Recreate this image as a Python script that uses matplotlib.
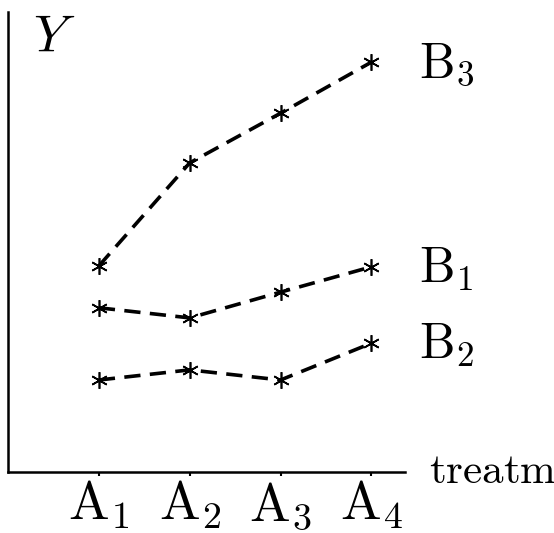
import matplotlib.pyplot as plt

plt.rcParams['mathtext.fontset'] = 'cm'

# dados
tratamentos = [1, 2, 3, 4]
rotulos_x = [r'$\mathrm{A}_1$', r'$\mathrm{A}_2$', r'$\mathrm{A}_3$', r'$\mathrm{A}_4$']
b1 = [3.57, 3.35, 3.91, 4.46]
b2 = [2.00, 2.22, 2.00, 2.80]
b3 = [4.48, 6.72, 7.80, 8.91]
series = [(b3, r'$\mathrm{B}_3$'), (b1, r'$\mathrm{B}_1$'), (b2, r'$\mathrm{B}_2$')]

fig = plt.figure(figsize=(5.54, 5.33), dpi=100)
ax = fig.add_axes([8 / 554, 61 / 533, 397 / 554, 460 / 533])

for valores, nome in series:
    ax.plot(tratamentos, valores, color='black', linestyle='--', dashes=(4.5, 2.6),
            linewidth=2.6, marker=(6, 2, 0), markersize=12, markeredgewidth=1.2)
    ax.annotate(nome, (tratamentos[-1], valores[-1]), xytext=(34, -11),
                textcoords='offset points', fontsize=36, va='baseline', ha='left')

ax.set_xlim(0, 4.37)
ax.set_ylim(0, 10)
ax.spines['top'].set_visible(False)
ax.spines['right'].set_visible(False)
ax.spines['left'].set_linewidth(1.8)
ax.spines['bottom'].set_linewidth(1.8)
ax.set_yticks([])
ax.set_xticks(tratamentos)
ax.set_xticklabels(rotulos_x, fontsize=39)
ax.tick_params(axis='x', direction='out', length=3, width=1.5, pad=2)

fig.text(33 / 554, 1 - 52 / 533, r'$Y$', fontsize=38, ha='left', va='baseline')
fig.text(429 / 554, 1 - 483 / 533, r'$\mathrm{treatm}$', fontsize=31, ha='left', va='baseline')

plt.savefig('out.png', dpi=100)
